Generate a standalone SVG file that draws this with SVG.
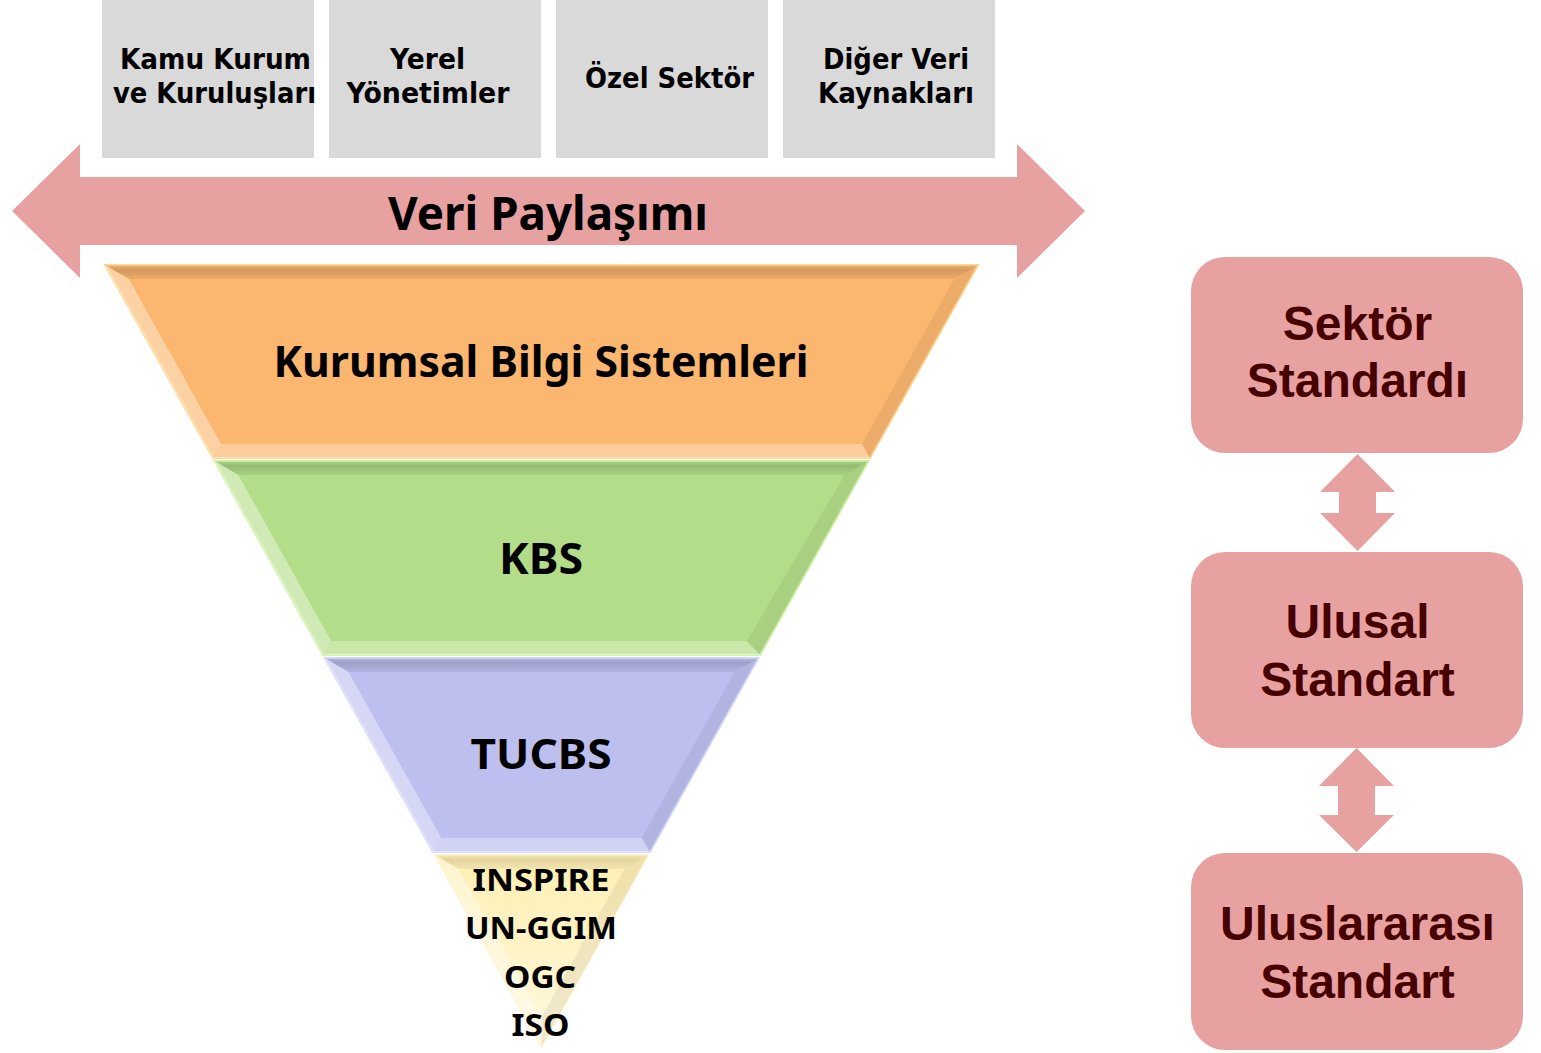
<svg xmlns="http://www.w3.org/2000/svg" width="1541" height="1053" viewBox="0 0 1541 1053">
<defs>
<linearGradient id="gTop" x1="0" y1="0" x2="0" y2="1">
<stop offset="0" stop-color="#000" stop-opacity="0.04"/>
<stop offset="0.35" stop-color="#000" stop-opacity="0.16"/>
<stop offset="1" stop-color="#000" stop-opacity="0.06"/>
</linearGradient>
<linearGradient id="gYel" x1="0" y1="0" x2="0" y2="1">
<stop offset="0" stop-color="#FFEFB2"/>
<stop offset="1" stop-color="#FFF8DE"/>
</linearGradient>
<style>
.tah{font-family:"Noto Sans","DejaVu Sans",sans-serif;font-weight:bold;fill:#000;text-anchor:middle}
.sm{font-family:"DejaVu Sans",sans-serif;font-weight:bold;fill:#000;text-anchor:middle;font-size:29px}
.ari{font-family:"Liberation Sans",Arial,sans-serif;font-weight:bold;fill:#470000;text-anchor:middle;font-size:48px}
.gray{fill:#D9D9D9}
.pink{fill:#E8A1A1}
.bt{fill:url(#gTop)}
.bl{fill:#fff;fill-opacity:0.38}
.bb{fill:#fff;fill-opacity:0.3}
.br{fill:#000;fill-opacity:0.06}
</style>
</defs>
<rect width="1541" height="1053" fill="#fff"/>

<g id="kamu">
<rect class="gray" x="102" y="0" width="212" height="158"/>
<text class="sm" x="215.5" y="69" textLength="191" lengthAdjust="spacingAndGlyphs">Kamu Kurum</text>
<text class="sm" x="214.5" y="103" textLength="203" lengthAdjust="spacingAndGlyphs">ve Kuruluşları</text>
</g>
<g id="yerel">
<rect class="gray" x="329" y="0" width="212" height="158"/>
<text class="sm" x="427.5" y="69" textLength="75" lengthAdjust="spacingAndGlyphs">Yerel</text>
<text class="sm" x="428" y="103" textLength="163" lengthAdjust="spacingAndGlyphs">Yönetimler</text>
</g>
<g id="ozel">
<rect class="gray" x="556" y="0" width="212" height="158"/>
<text class="sm" x="669.5" y="88" textLength="169" lengthAdjust="spacingAndGlyphs">Özel Sektör</text>
</g>
<g id="diger">
<rect class="gray" x="783" y="0" width="212" height="158"/>
<text class="sm" x="896" y="69" textLength="146" lengthAdjust="spacingAndGlyphs">Diğer Veri</text>
<text class="sm" x="896" y="103" textLength="156" lengthAdjust="spacingAndGlyphs">Kaynakları</text>
</g>

<g id="veri-paylasimi">
<polygon class="pink" points="12,211 80,144 80,177 1017,177 1017,144 1085,211 1017,278 1017,245 80,245 80,278"/>
<text class="tah" font-size="47" x="548" y="230" textLength="320" lengthAdjust="spacingAndGlyphs">Veri Paylaşımı</text>
</g>

<g id="kurumsal">
<polygon points="105,265 978,265 870.1,458 212.9,458" fill="#FBB66F" stroke="#FFD896" stroke-width="2"/>
<polygon class="bt" points="105,265 978,265 954.2,279 128.8,279"/>
<polygon class="br" points="978,265 870.1,458 862,444 954.2,279"/>
<polygon class="bb" points="870.1,458 212.9,458 221,444 862,444"/>
<polygon class="bl" points="212.9,458 105,265 128.8,279 221,444"/>
<text class="tah" font-size="43" x="541" y="377" textLength="535" lengthAdjust="spacingAndGlyphs">Kurumsal Bilgi Sistemleri</text>
</g>

<g id="kbs">
<polygon points="214.5,461 868.5,461 760,655 323,655" fill="#B3DD89" stroke="#D2F3A8" stroke-width="2"/>
<polygon class="bt" points="214.5,461 868.5,461 844.6,475 238.4,475"/>
<polygon class="br" points="868.5,461 760,655 746.9,641 844.6,475"/>
<polygon class="bb" points="760,655 323,655 331.1,641 746.9,641"/>
<polygon class="bl" points="323,655 214.5,461 238.4,475 331.1,641"/>
<text class="tah" font-size="43" x="541" y="574" textLength="84" lengthAdjust="spacingAndGlyphs">KBS</text>
</g>

<g id="tucbs">
<polygon points="324.6,658 758.4,658 650,852 433,852" fill="#BDBFEF" stroke="#D8DAFB" stroke-width="2"/>
<polygon class="bt" points="324.6,658 758.4,658 734.5,672 348.5,672"/>
<polygon class="br" points="758.4,658 650,852 641.7,838 734.5,672"/>
<polygon class="bb" points="650,852 433,852 441.3,838 641.7,838"/>
<polygon class="bl" points="433,852 324.6,658 348.5,672 441.3,838"/>
<text class="tah" font-size="42" x="541" y="769" textLength="141" lengthAdjust="spacingAndGlyphs">TUCBS</text>
</g>

<g id="standartlar">
<polygon points="434.8,855 648.2,855 541.5,1046" fill="url(#gYel)" stroke="#FFF3CC" stroke-width="2"/>
<polygon class="bt" points="434.8,855 648.2,855 624.4,869 458.6,869" opacity="0.7"/>
<polygon class="br" points="648.2,855 541.5,1046 541.5,1017 624.4,869"/>
<polygon class="bl" points="541.5,1046 434.8,855 458.6,869 541.5,1017"/>
<text class="tah" font-size="31" x="541" y="891" textLength="137" lengthAdjust="spacingAndGlyphs">INSPIRE</text>
<text class="tah" font-size="31" x="541" y="939" textLength="152" lengthAdjust="spacingAndGlyphs">UN-GGIM</text>
<text class="tah" font-size="31" x="540" y="988" textLength="72" lengthAdjust="spacingAndGlyphs">OGC</text>
<text class="tah" font-size="31" x="540.5" y="1036" textLength="58" lengthAdjust="spacingAndGlyphs">ISO</text>
</g>

<g id="sektor-standardi">
<rect class="pink" x="1191" y="257" width="332" height="196" rx="34"/>
<text class="ari" x="1357.5" y="340">Sektör</text>
<text class="ari" x="1357.5" y="397">Standardı</text>
</g>
<g id="ulusal-standart">
<rect class="pink" x="1191" y="552" width="332" height="196" rx="34"/>
<text class="ari" x="1357.5" y="638">Ulusal</text>
<text class="ari" x="1357.5" y="696">Standart</text>
</g>
<g id="uluslararasi-standart">
<rect class="pink" x="1191" y="853" width="332" height="197" rx="34"/>
<text class="ari" x="1357.5" y="940">Uluslararası</text>
<text class="ari" x="1357.5" y="998">Standart</text>
</g>

<g id="connectors">
<polygon class="pink" points="1357.5,454 1395,492 1376,492 1376,513 1395,513 1357.5,551 1320,513 1339,513 1339,492 1320,492"/>
<polygon class="pink" points="1356.5,748 1394,786 1375,786 1375,815 1394,815 1356.5,852 1319,815 1338,815 1338,786 1319,786"/>
</g>
</svg>
